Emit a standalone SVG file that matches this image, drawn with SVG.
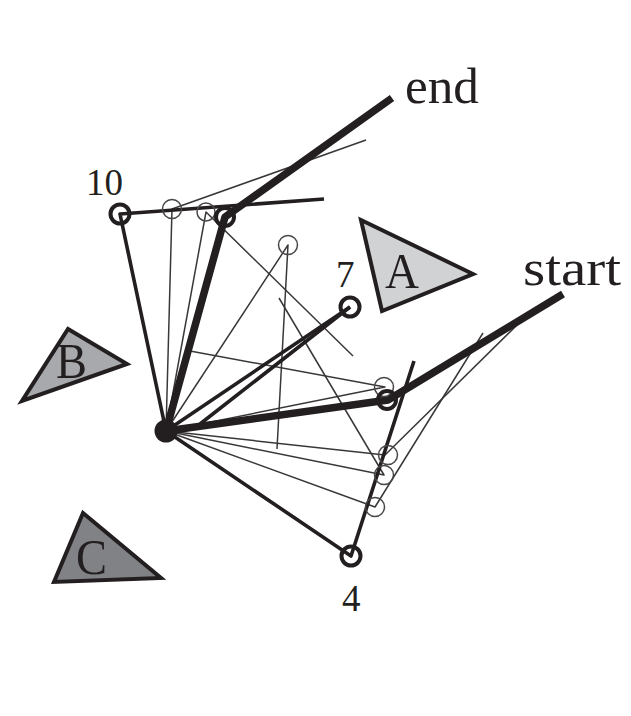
<svg xmlns="http://www.w3.org/2000/svg" width="631" height="716" viewBox="0 0 631 716">
<style>
text{font-family:"Liberation Serif","DejaVu Serif",serif;fill:#231f20}
.big{font-size:50px}
.num{font-size:37px}
.tri{stroke:#231f20;stroke-width:4;stroke-linejoin:miter}
line,polyline{stroke:#231f20;fill:none;stroke-linecap:butt;stroke-linejoin:round}
.t{stroke-width:1.5;stroke:#3a3738}
.k{stroke-width:3.6}
.h{stroke-width:7.5}
.ring{fill:none;stroke:#231f20;stroke-width:4}
.thin{fill:none;stroke:#4a4748;stroke-width:1.5}
</style>
<rect width="631" height="716" fill="#fff"/>
<g id="connectors">
<polyline class="t" points="166,431 172,209 366,140"/>
<polyline class="t" points="166,431 206,212 353,356"/>
<polyline class="t" points="166,431 288,245 277,449"/>
<polyline class="t" points="166,431 385,387 190,351"/>
<polyline class="t" points="166,431 385,455 520,322"/>
<polyline class="t" points="166,431 384,475 279,298"/>
<polyline class="t" points="166,431 375,507 483,333"/>
<polyline class="k" points="166,431 120,214 324,199"/>
<polyline class="k" points="166,431 351,556 414,361"/>
<line class="k" x1="166" y1="431" x2="350" y2="307"/>
<line class="k" x1="200" y1="424" x2="350" y2="307"/>
<polyline class="h" points="166,431 225,217 392,98"/>
<polyline class="h" points="166,431 388,400 563,294"/>
</g>
<g id="hub"><circle cx="166" cy="431" r="11.5" fill="#231f20"/></g>
<g id="rings">
<circle class="thin" cx="172" cy="209" r="9.5"/>
<circle class="thin" cx="206" cy="212" r="9"/>
<circle class="thin" cx="288" cy="245" r="9.5"/>
<circle class="thin" cx="384" cy="387" r="9.5"/>
<circle class="thin" cx="388" cy="455" r="9.5"/>
<circle class="thin" cx="384" cy="475" r="9.5"/>
<circle class="thin" cx="375" cy="507" r="9.5"/>
<circle class="ring" cx="120" cy="214" r="9.5"/>
<circle class="ring" cx="225" cy="217" r="9"/>
<circle class="ring" cx="350" cy="307" r="9.5"/>
<circle class="ring" cx="387" cy="400" r="9"/>
<circle class="ring" cx="351" cy="556" r="9.5"/>
</g>
<g id="triangle-a"><polygon class="tri" fill="#d1d2d4" points="361,220 473,274 382,311"/><text class="big" x="385" y="288" textLength="34" lengthAdjust="spacingAndGlyphs">A</text></g>
<g id="triangle-b"><polygon class="tri" fill="#a7a9ac" points="68,329 127,364 22,401"/><text class="big" x="56" y="378" textLength="31" lengthAdjust="spacingAndGlyphs">B</text></g>
<g id="triangle-c"><polygon class="tri" fill="#808285" points="83,513 161,578 54,582"/><text class="big" x="76" y="574" textLength="31" lengthAdjust="spacingAndGlyphs">C</text></g>
<g id="labels">
<text class="big" x="405" y="103" textLength="74" lengthAdjust="spacingAndGlyphs">end</text>
<text class="big" x="523" y="285" textLength="98" lengthAdjust="spacingAndGlyphs">start</text>
<text class="num" x="86" y="195">10</text>
<text class="num" x="336" y="287">7</text>
<text class="num" x="342" y="611">4</text>
</g>
</svg>
